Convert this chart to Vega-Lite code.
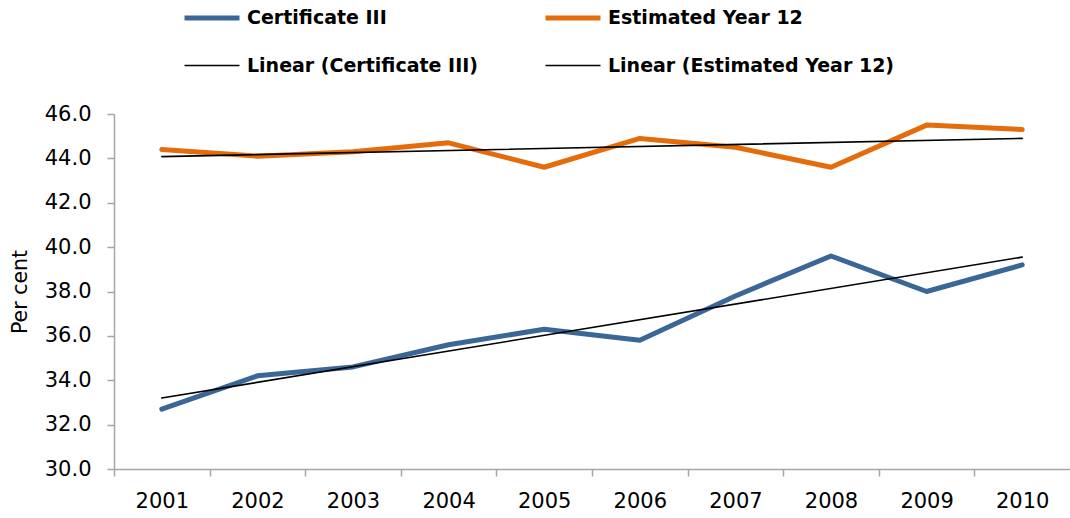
{
  "$schema": "https://vega.github.io/schema/vega-lite/v6.json",
  "width": 956,
  "height": 355,
  "autosize": {"type": "none"},
  "padding": {"left": 114, "top": 114, "right": 0, "bottom": 49},
  "background": "white",
  "config": {
    "view": {"stroke": null},
    "font": "DejaVu Sans",
    "axis": {
      "domainColor": "#A6A6A6",
      "tickColor": "#A6A6A6",
      "domainWidth": 1.5,
      "tickWidth": 1.5,
      "labelColor": "#000000",
      "labelFont": "DejaVu Sans",
      "labelFontSize": 21,
      "grid": false
    },
    "legend": {
      "title": null,
      "orient": "none",
      "legendX": 68,
      "legendY": -126,
      "columns": 2,
      "columnPadding": 57,
      "rowPadding": 9,
      "padding": 0,
      "symbolType": "stroke",
      "symbolSize": 3025,
      "labelOffset": 5,
      "labelFont": "DejaVu Sans",
      "labelFontWeight": "bold",
      "labelFontSize": 19,
      "labelColor": "#000000",
      "labelLimit": 400
    }
  },
  "data": {
    "values": [
      {"year": "2001", "value": 32.7, "series": "Certificate III"},
      {"year": "2002", "value": 34.2, "series": "Certificate III"},
      {"year": "2003", "value": 34.6, "series": "Certificate III"},
      {"year": "2004", "value": 35.6, "series": "Certificate III"},
      {"year": "2005", "value": 36.3, "series": "Certificate III"},
      {"year": "2006", "value": 35.8, "series": "Certificate III"},
      {"year": "2007", "value": 37.8, "series": "Certificate III"},
      {"year": "2008", "value": 39.6, "series": "Certificate III"},
      {"year": "2009", "value": 38.0, "series": "Certificate III"},
      {"year": "2010", "value": 39.2, "series": "Certificate III"},
      {"year": "2001", "value": 44.4, "series": "Estimated Year 12"},
      {"year": "2002", "value": 44.1, "series": "Estimated Year 12"},
      {"year": "2003", "value": 44.3, "series": "Estimated Year 12"},
      {"year": "2004", "value": 44.7, "series": "Estimated Year 12"},
      {"year": "2005", "value": 43.6, "series": "Estimated Year 12"},
      {"year": "2006", "value": 44.9, "series": "Estimated Year 12"},
      {"year": "2007", "value": 44.5, "series": "Estimated Year 12"},
      {"year": "2008", "value": 43.6, "series": "Estimated Year 12"},
      {"year": "2009", "value": 45.5, "series": "Estimated Year 12"},
      {"year": "2010", "value": 45.3, "series": "Estimated Year 12"},
      {"year": "2001", "value": 33.2, "series": "Linear (Certificate III)"},
      {"year": "2010", "value": 39.55, "series": "Linear (Certificate III)"},
      {"year": "2001", "value": 44.08, "series": "Linear (Estimated Year 12)"},
      {"year": "2010", "value": 44.9, "series": "Linear (Estimated Year 12)"}
    ]
  },
  "mark": {"type": "line", "strokeCap": "round", "strokeJoin": "round"},
  "encoding": {
    "x": {
      "field": "year",
      "type": "ordinal",
      "scale": {"type": "point", "padding": 0.5},
      "axis": {
        "title": null,
        "labelAngle": 0,
        "tickSize": 7,
        "tickOffset": -47.8,
        "labelOffset": 47.8,
        "labelPadding": 14
      }
    },
    "y": {
      "field": "value",
      "type": "quantitative",
      "scale": {"domain": [30, 46], "nice": false, "zero": false},
      "axis": {
        "title": "Per cent",
        "titleFont": "DejaVu Sans",
        "titleFontSize": 20.5,
        "titleFontWeight": "normal",
        "titleColor": "#000000",
        "titlePadding": 14,
        "values": [30, 32, 34, 36, 38, 40, 42, 44, 46],
        "format": ".1f",
        "tickSize": 7,
        "labelPadding": 16
      }
    },
    "color": {
      "field": "series",
      "type": "nominal",
      "scale": {
        "domain": ["Certificate III", "Linear (Certificate III)", "Estimated Year 12", "Linear (Estimated Year 12)"],
        "range": ["#3A6698", "#000000", "#E46C0A", "#000000"]
      }
    },
    "strokeWidth": {
      "field": "series",
      "type": "nominal",
      "scale": {
        "type": "ordinal",
        "domain": ["Certificate III", "Linear (Certificate III)", "Estimated Year 12", "Linear (Estimated Year 12)"],
        "range": [5, 1.6, 5, 1.6]
      }
    }
  }
}
